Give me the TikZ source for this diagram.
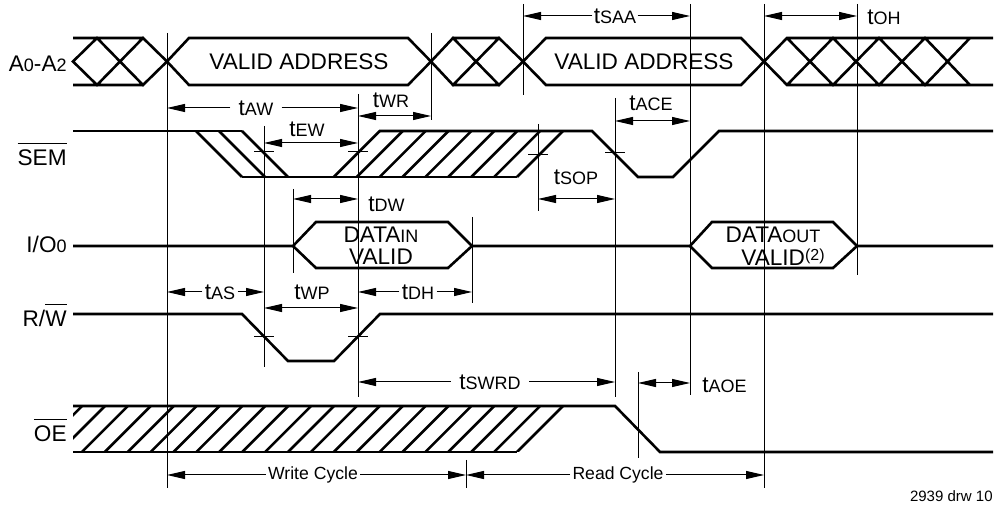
\documentclass[tikz,border=0pt]{standalone}
\usepackage{fontspec}
\setmainfont{Liberation Sans}
\usetikzlibrary{arrows.meta, positioning}
\newcommand{\sz}{\fontsize{11.3}{13}\selectfont}
\newcommand{\subsz}{\fontsize{9}{10}\selectfont}
\newcommand{\idx}[1]{{\subsz #1}}
\newcommand{\tpar}[1]{t\idx{#1}}
\newcommand{\ovl}[1]{$\overline{\mbox{\rule{0pt}{10pt}#1}}$}

\begin{document}
\begin{tikzpicture}[
            x=0.5pt, y=-0.5pt,
            signal/.style={line width=1.3pt},
            marker/.style={line width=0.5pt},
            span/.style={marker, <->},
            lbl/.style={font=\sz, inner sep=1pt},
            sig name/.style={font=\sz, anchor=base east, inner sep=0pt},
            >={Triangle[length=9pt, width=4pt]}
        ]
        \useasboundingbox (0,0) rectangle (994,506);

        \foreach \Name/\X/\Top/\Bot in {wstart/167/33/488, ew/264/126/367, dw/293/189/273,
            wedge/358/94/397, wr/431/33/120, dh/472/217/303, wend/466/460/488,
            saa/523/4/95, sop/538/124/211, ce/615/98/397, aoe/638/372/458,
            acc/690/4/395, hold/764/4/488, oh/857/4/275}
            \draw[marker] (\X,\Top) coordinate (\Name) -- (\X,\Bot);

        \foreach \X/\Y in {264/152, 358/152, 538/155, 615/153, 264/337, 358/337}
            \draw[marker] (\X,\Y) ++(-10,0) -- ++(20,0);

        \draw[signal] (73,38) -- (143,38) (73,85) -- (143,85)
            (73,61.5) -- (97,38) -- (143,85) -- (167,61.5) -- (143,38) -- (97,85) -- cycle;
        \draw[signal] (167,61.5) -- (189,38) -- (408,38) -- (431,61.5) -- (408,85) -- (189,85) -- cycle;
        \draw[signal] (431,61.5) -- (453,38) -- (499,85) -- (523,61.5) -- (499,38) -- (453,85) -- cycle
            (453,38) -- (499,38) (453,85) -- (499,85);
        \draw[signal] (523,61.5) -- (546,38) -- (741,38) -- (764,61.5) -- (741,85) -- (546,85) -- cycle;
        \draw[signal] (993,38) -- (787,38) -- (764,61.5) -- (787,85) -- (993,85)
            (787,38) -- (833,85) -- (879,38) -- (925,85) -- (970,38)
            (787,85) -- (833,38) -- (879,85) -- (925,38) -- (970,85);

        \draw[signal] (73,131) -- (242,131);
        \foreach \S in {196,219,242}
            \draw[signal] (\S,131) -- ++(46,46);
        \draw[signal] (242,177) -- (517,177);
        \foreach \k in {0,...,8}
            \draw[signal] (517-22.9*\k,177) -- ++(46,-46);
        \draw[signal] (379,131) -- (592,131) -- (638,177) -- (673,177) -- (719,131) -- (993,131);

        \draw[signal] (73,246) -- (293,246) -- (316,222) -- (448,222) -- (472,246) -- (690,246)
            -- (712,222) -- (833,222) -- (857,246) -- (993,246);
        \draw[signal] (293,246) -- (316,268) -- (448,268) -- (472,246);
        \draw[signal] (690,246) -- (712,268) -- (833,268) -- (857,246);

        \draw[signal] (73,314) -- (242,314) -- (288,361) -- (334,361) -- (380,314) -- (993,314);

        \begin{scope}
            \clip (73,406) -- (568,406) -- (523,452) -- (73,452) -- cycle;
            \foreach \k in {0,...,21}
                \draw[signal] (517-22.9*\k,452) -- ++(46,-46);
        \end{scope}
        \draw[signal] (73,406) -- (615,406) -- (660,452) -- (993,452);
        \draw[signal] (73,452) -- (517,452);

        \node[sig name] (lblA) at (67,72) {A\idx{0}-A\idx{2}};
        \node[sig name] (lblSEM) at (67,166) {\ovl{SEM}};
        \node[sig name] (lblIO) at (67,253) {I/O\idx{0}};
        \node[sig name] (lblRW) at (67,327) {R/\ovl{W}};
        \node[sig name] (lblOE) at (67,442) {\ovl{OE}};

        \node[lbl] (addr1) at (299,62) {VALID ADDRESS};
        \node[lbl] (addr2) at (644,62) {VALID ADDRESS};
        \node[lbl] (din) at (381,235) {DATA\idx{IN}};
        \node[lbl] (dinv) at (381,257) {VALID};
        \node[lbl] (dout) at (773,235) {DATA\idx{OUT}};
        \node[lbl] (doutv) at (783,257) {VALID\raisebox{2.3pt}{\fontsize{8}{9}\selectfont(2)}};

        \foreach \Name/\X/\Y/\Text/\Sep in {aw/256/108/AW/4pt, saa/615/16/SAA/0.5pt, as/220/292/AS/1pt,
            dh/418/292/DH/1pt, swrd/490/382/SWRD/4pt}
            \node[lbl, inner xsep=\Sep] (t\Name) at (\X,\Y) {\tpar{\Text}};
        \node[lbl, font=\fontsize{8.8}{10}\selectfont] (wcyc) at (313,475) {Write Cycle};
        \node[lbl, font=\fontsize{8.8}{10}\selectfont] (rcyc) at (618,475) {Read Cycle};

        \foreach \Lbl/\From/\To in {taw/wstart/wedge, tsaa/saa/acc, tas/wstart/ew, tdh/wedge/dh,
            tswrd/wedge/ce, wcyc/wstart/wend, rcyc/wend/hold}
            {
            \draw[marker, ->] (\Lbl.west) -- (\From |- \Lbl);
            \draw[marker, ->] (\Lbl.east) -- (\To |- \Lbl);
            }

        \foreach \From/\To/\Y in {wedge/wr/116, ew/wedge/143, dw/wedge/199, ce/acc/121,
            sop/ce/199, ew/wedge/308, hold/oh/16, aoe/acc/383}
            \draw[span] (\From |- 0,\Y) -- (\To |- 0,\Y);

        \node[lbl] (twr) at (391,100) {\tpar{WR}};
        \node[lbl] (tew) at (307,129) {\tpar{EW}};
        \node[lbl, anchor=west] (tdw) at (366,204) {\tpar{DW}};
        \node[lbl] (tace) at (651,103) {\tpar{ACE}};
        \node[lbl] (tsop) at (576,177) {\tpar{SOP}};
        \node[lbl] (twp) at (312,292) {\tpar{WP}};
        \node[lbl, anchor=west] (toh) at (865,17) {\tpar{OH}};
        \node[lbl, anchor=west] (taoe) at (700,385) {\tpar{AOE}};

        \node[anchor=east, inner sep=0pt, font=\fontsize{7.5}{9}\selectfont] (drw) at (993,496) {2939 drw 10};
    \end{tikzpicture}
\end{document}
